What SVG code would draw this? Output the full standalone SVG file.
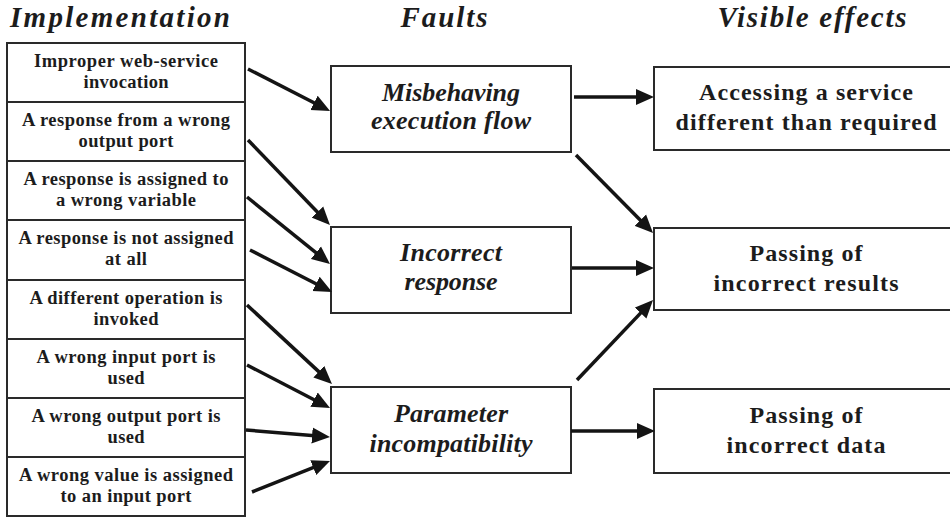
<svg xmlns="http://www.w3.org/2000/svg" width="950" height="517" viewBox="0 0 950 517">
<style>
.bx{fill:#fff;stroke:#2a2a2a;stroke-width:2}
.t{font-weight:bold;fill:#1c1c1c;text-anchor:middle}
.s{font-size:18.5px}
.m{font-size:26px;font-style:italic}
.r{font-size:24px}
.h{font-size:29px;font-style:italic}
.c{stroke:#141414;stroke-width:3.5;fill:none;marker-end:url(#ah)}
</style>
<defs>
<marker id="ah" markerUnits="userSpaceOnUse" markerWidth="18" markerHeight="17" viewBox="0 0 18 16" refX="12" refY="8" orient="auto">
<path d="M0,0 L18,8 L0,16 z" fill="#141414"/>
</marker>
</defs>
<rect width="950" height="517" fill="#fff"/>
<g font-family="'Liberation Serif', 'DejaVu Serif', serif">
<g id="headers">
<text class="t h" x="120" y="27" textLength="220">Implementation</text>
<text class="t h" x="444" y="27" textLength="87">Faults</text>
<text class="t h" x="812" y="27" textLength="189">Visible effects</text>
</g>
<g id="impl1"><rect class="bx" x="7" y="43" width="238" height="59"/>
<text class="t s" x="126" y="67" textLength="184">Improper web-service</text>
<text class="t s" x="126" y="88" textLength="85">invocation</text></g>
<g id="impl2"><rect class="bx" x="7" y="102" width="238" height="59"/>
<text class="t s" x="126" y="126" textLength="208">A response from a wrong</text>
<text class="t s" x="126" y="147" textLength="95">output port</text></g>
<g id="impl3"><rect class="bx" x="7" y="161" width="238" height="59"/>
<text class="t s" x="126" y="185" textLength="205">A response is assigned to</text>
<text class="t s" x="126" y="206" textLength="140">a wrong variable</text></g>
<g id="impl4"><rect class="bx" x="7" y="220" width="238" height="60"/>
<text class="t s" x="126" y="244" textLength="215">A response is not assigned</text>
<text class="t s" x="126" y="265" textLength="42">at all</text></g>
<g id="impl5"><rect class="bx" x="7" y="280" width="238" height="59"/>
<text class="t s" x="126" y="304" textLength="193">A different operation is</text>
<text class="t s" x="126" y="325" textLength="65">invoked</text></g>
<g id="impl6"><rect class="bx" x="7" y="339" width="238" height="59"/>
<text class="t s" x="126" y="363" textLength="179">A wrong input port is</text>
<text class="t s" x="126" y="384" textLength="37">used</text></g>
<g id="impl7"><rect class="bx" x="7" y="398" width="238" height="59"/>
<text class="t s" x="126" y="422" textLength="189">A wrong output port is</text>
<text class="t s" x="126" y="443" textLength="37">used</text></g>
<g id="impl8"><rect class="bx" x="7" y="457" width="238" height="59"/>
<text class="t s" x="126" y="481" textLength="214">A wrong value is assigned</text>
<text class="t s" x="126" y="502" textLength="131">to an input port</text></g>
<g id="fault1"><rect class="bx" x="331" y="66" width="240" height="86"/>
<text class="t m" x="451" y="101" textLength="138">Misbehaving</text>
<text class="t m" x="451" y="129" textLength="160">execution flow</text></g>
<g id="fault2"><rect class="bx" x="331" y="227" width="240" height="86"/>
<text class="t m" x="451" y="261" textLength="102">Incorrect</text>
<text class="t m" x="451" y="290" textLength="93">response</text></g>
<g id="fault3"><rect class="bx" x="331" y="387" width="240" height="86"/>
<text class="t m" x="451" y="422" textLength="114">Parameter</text>
<text class="t m" x="451" y="452" textLength="163">incompatibility</text></g>
<g id="effect1"><rect class="bx" x="654" y="67" width="310" height="83"/>
<text class="t r" x="806" y="100" textLength="214">Accessing a service</text>
<text class="t r" x="806" y="130" textLength="261">different than required</text></g>
<g id="effect2"><rect class="bx" x="654" y="228" width="310" height="82"/>
<text class="t r" x="806" y="261" textLength="113">Passing of</text>
<text class="t r" x="806" y="291" textLength="185">incorrect results</text></g>
<g id="effect3"><rect class="bx" x="654" y="389" width="310" height="84"/>
<text class="t r" x="806" y="423" textLength="113">Passing of</text>
<text class="t r" x="806" y="453" textLength="159">incorrect data</text></g>
</g>
<g id="connectors">
<line class="c" x1="248" y1="69" x2="324.7" y2="108.3"/>
<line class="c" x1="248" y1="140" x2="325.8" y2="220.7"/>
<line class="c" x1="247" y1="197" x2="325.3" y2="260.2"/>
<line class="c" x1="250" y1="250" x2="326.7" y2="289.3"/>
<line class="c" x1="247" y1="305" x2="327.6" y2="379.9"/>
<line class="c" x1="247" y1="365" x2="324.7" y2="405.2"/>
<line class="c" x1="246" y1="430" x2="324" y2="436.5"/>
<line class="c" x1="252" y1="492" x2="324.4" y2="463.2"/>
<line class="c" x1="574" y1="97" x2="648" y2="97"/>
<line class="c" x1="576" y1="155" x2="648.8" y2="228.7"/>
<line class="c" x1="572" y1="268" x2="648" y2="268"/>
<line class="c" x1="577" y1="380" x2="648.9" y2="304.4"/>
<line class="c" x1="571" y1="431" x2="649" y2="431"/>
</g>
</svg>
